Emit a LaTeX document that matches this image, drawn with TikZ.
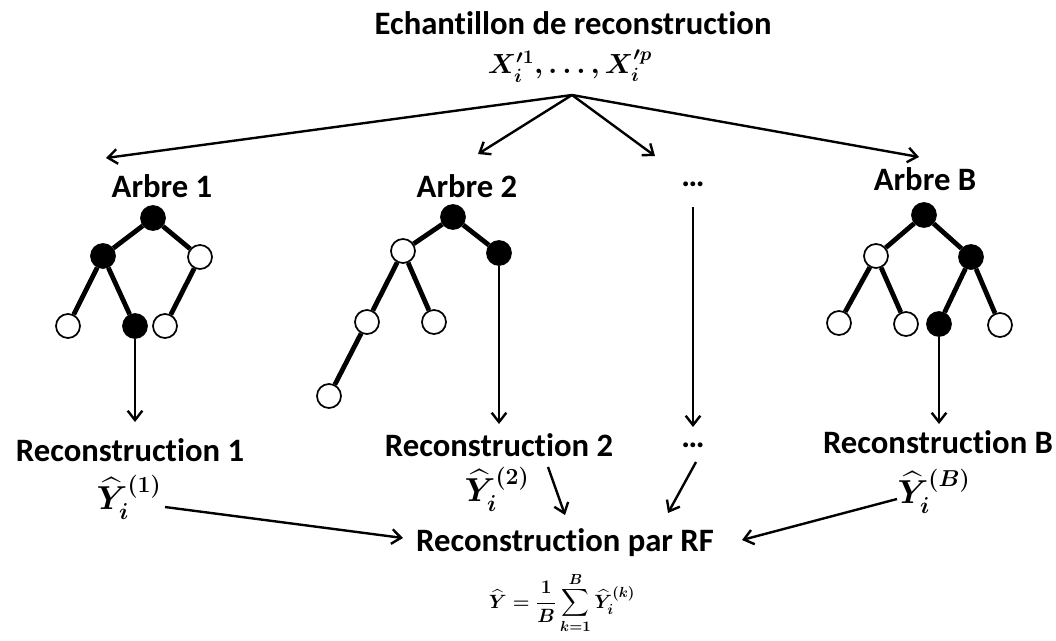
\documentclass[tikz,border=0pt]{standalone}
\usepackage{amsmath}
\usepackage{fontspec}
\setmainfont{Carlito}[Ligatures=NoCommon]
\usetikzlibrary{arrows.meta}
\begin{document}
\begin{tikzpicture}[x=0.75pt,y=-0.75pt,
  lbl/.style={font=\fontsize{24.5}{28}\selectfont\bfseries, inner sep=0pt},
  mth/.style={font=\fontsize{24}{28}\selectfont\boldmath, inner sep=0pt},
  bn/.style={circle, draw, fill=black, line width=1.3pt, minimum size=18pt, inner sep=0pt},
  wn/.style={circle, draw, fill=white, line width=1.3pt, minimum size=18pt, inner sep=0pt},
  edge/.style={line width=3.6pt},
  arr/.style={line width=1.8pt, -{Straight Barb[length=7pt,width=11pt,line width=1.8pt]}}
]
\useasboundingbox (0,0) rectangle (1056,640);

% top
\node[lbl] (title) at (573,23) {Echantillon de reconstruction};
\node[font=\fontsize{21}{24}\selectfont\boldmath, inner sep=0pt] (xs) at (570,66) {$X'^{1}_{i},\ldots,X'^{p}_{i}$};
\coordinate (src) at (572,95);
\coordinate (a1) at (106,158);
\coordinate (a2) at (478,154);
\coordinate (a3) at (655,156);
\coordinate (a4) at (919,157);
\draw[arr] (src) -- (a1);
\draw[arr] (src) -- (a2);
\draw[arr] (src) -- (a3);
\draw[arr] (src) -- (a4);

% headers
\node[lbl] (h1) at (162,186) {Arbre 1};
\node[lbl] (h2) at (467,186) {Arbre 2};
\node[lbl] (h3) at (693,184) {\ldots};
\node[lbl] (h4) at (925,179) {Arbre B};

% tree 1
\node[bn] (t1r) at (153,218) {};
\node[bn] (t1a) at (103,256) {};
\node[wn] (t1b) at (200,257) {};
\node[wn] (t1c) at (68,326) {};
\node[bn] (t1d) at (135,326) {};
\node[wn] (t1e) at (165,326) {};
\draw[edge] (t1r) -- (t1a) (t1r) -- (t1b) (t1a) -- (t1c) (t1a) -- (t1d) (t1b) -- (t1e);

% tree 2
\node[bn] (t2r) at (453,217) {};
\node[wn] (t2a) at (403,251) {};
\node[bn] (t2b) at (499,253) {};
\node[wn] (t2c) at (367,322) {};
\node[wn] (t2d) at (434,322) {};
\node[wn] (t2e) at (329,396) {};
\draw[edge] (t2r) -- (t2a) (t2r) -- (t2b) (t2a) -- (t2c) (t2a) -- (t2d) (t2c) -- (t2e);

% tree B
\node[bn] (t4r) at (924,215) {};
\node[wn] (t4a) at (876,256) {};
\node[bn] (t4b) at (971,257) {};
\node[wn] (t4c) at (839,323) {};
\node[wn] (t4d) at (906,324) {};
\node[bn] (t4e) at (939,324) {};
\node[wn] (t4f) at (1000,325) {};
\draw[edge] (t4r) -- (t4a) (t4r) -- (t4b) (t4a) -- (t4c) (t4a) -- (t4d) (t4b) -- (t4e) (t4b) -- (t4f);

% reconstructions
\node[lbl] (r1) at (130,450) {Reconstruction 1};
\node[lbl] (r2) at (499,445) {Reconstruction 2};
\node[lbl] (r3) at (693,445) {\ldots};
\node[lbl] (r4) at (938,442) {Reconstruction B};

\coordinate (e1) at (135,422);
\coordinate (e2) at (499,424);
\coordinate (e3) at (693,427);
\coordinate (e4) at (939,424);
\coordinate (s3) at (693,207);
\draw[arr] (t1d) -- (e1);
\draw[arr] (t2b) -- (e2);
\draw[arr] (s3) -- (e3);
\draw[arr] (t4e) -- (e4);

% y hats
\node[mth] (y1) at (129,497) {$\widehat{Y}_{i}^{(1)}$};
\node[mth] (y2) at (497,489) {$\widehat{Y}_{i}^{(2)}$};
\node[mth] (y4) at (934,491) {$\widehat{Y}_{i}^{(B)}$};

% bottom
\node[lbl] (rf) at (565,543) {Reconstruction par RF};
\node[font=\fontsize{15.5}{18}\selectfont\boldmath, inner sep=0pt] (form) at (562,603)
  {$\displaystyle \widehat{Y}=\frac{1}{B}\sum_{k=1}^{B}\widehat{Y}_{i}^{(k)}$};

\coordinate (b1s) at (165,507);
\coordinate (b1e) at (403,538);
\coordinate (b2s) at (548,467);
\coordinate (b2e) at (565,515);
\coordinate (b3s) at (696,462);
\coordinate (b3e) at (668,513);
\coordinate (b4s) at (897,499);
\coordinate (b4e) at (742,540);
\draw[arr] (b1s) -- (b1e);
\draw[arr] (b2s) -- (b2e);
\draw[arr] (b3s) -- (b3e);
\draw[arr] (b4s) -- (b4e);
\end{tikzpicture}
\end{document}
